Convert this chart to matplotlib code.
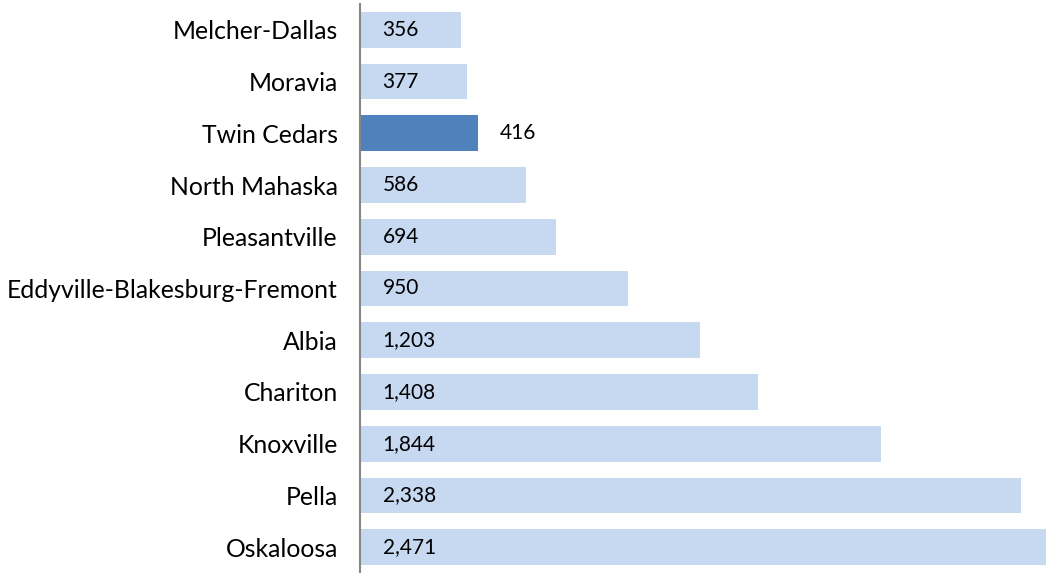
import matplotlib.pyplot as plt

# districts from top to bottom
districts = ["Melcher-Dallas", "Moravia", "Twin Cedars", "North Mahaska",
             "Pleasantville", "Eddyville-Blakesburg-Fremont", "Albia",
             "Chariton", "Knoxville", "Pella", "Oskaloosa"]
enrollment = [356, 377, 416, 586, 694, 950, 1203, 1408, 1844, 2338, 2471]
highlight = "Twin Cedars"

plt.rcParams['font.family'] = ['Lato', 'DejaVu Sans']

fig = plt.figure(figsize=(10.46, 5.73), dpi=100)
ax = fig.add_axes([360 / 1046, 0, 1 - 360 / 1046, 1 - 4 / 573])

colors = ["#4F81BD" if d == highlight else "#C6D9F1" for d in districts]
pos = list(range(len(districts)))
ax.barh(pos, enrollment, height=0.69, color=colors)

# value labels: inside the light bars, outside the highlighted one
for y, (d, v) in enumerate(zip(districts, enrollment)):
    if d == highlight:
        ax.text(v + 78, y, f"{v:,}", va="center", ha="left", fontsize=15)
    else:
        ax.text(80, y, f"{v:,}", va="center", ha="left", fontsize=15)

ax.set_yticks(pos)
ax.set_yticklabels(districts, fontsize=17.8)
ax.set_ylim(len(districts) - 0.5, -0.5)
ax.set_xlim(0, 2428)
ax.set_xticks([])
ax.tick_params(axis="y", length=0, pad=16)

for s in ["top", "right", "bottom"]:
    ax.spines[s].set_visible(False)
ax.spines["left"].set_color("#868686")
ax.spines["left"].set_linewidth(1.5)

fig.savefig("out.png", dpi=100)
